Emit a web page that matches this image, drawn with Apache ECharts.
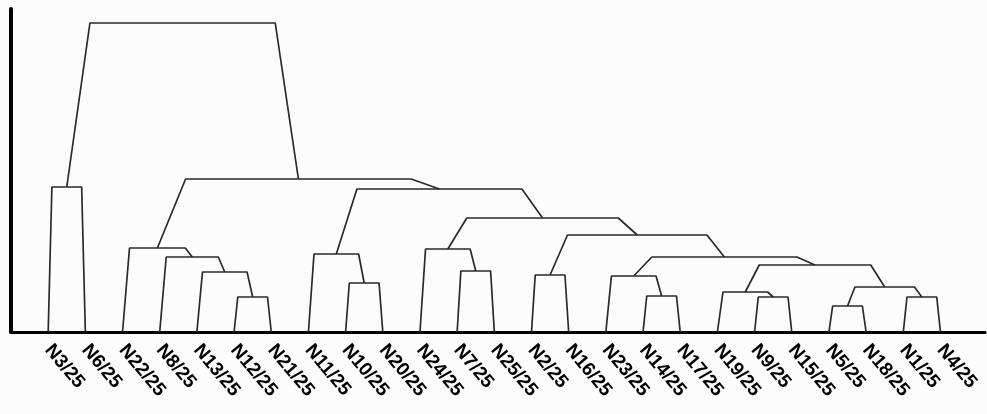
<!DOCTYPE html>
<html>
<head>
<meta charset="utf-8">
<script src="https://cdn.jsdelivr.net/npm/echarts@6/dist/echarts.min.js"></script>
<style>html,body{margin:0;padding:0;background:#fcfcfc;}#c{width:987px;height:414px;}</style>
</head>
<body>
<div id="c"></div>
<script>
// Leaf order along the x axis
const leaves = ["N3/25","N6/25","N22/25","N8/25","N13/25","N12/25","N21/25","N11/25","N10/25","N20/25","N24/25","N7/25","N25/25","N2/25","N16/25","N23/25","N14/25","N17/25","N19/25","N9/25","N15/25","N5/25","N18/25","N1/25","N4/25"];
// Merge steps: children are leaf names or indices of earlier merges
const mergeLeft   = ["N3/25","N12/25","N13/25","N8/25","N22/25","N10/25","N11/25","N7/25","N24/25","N2/25","N14/25","N23/25","N9/25","N19/25","N5/25","N1/25",14,13,11,9,8,6,4,0];
const mergeRight  = ["N6/25","N21/25",1,2,3,"N20/25",5,"N25/25",7,"N16/25","N17/25",10,"N15/25",12,"N18/25","N4/25",15,16,17,18,19,20,21,22];
const mergeHeight = [145,35,60,75,84,49,78,61,83,57,36,56,35,40,26,35,45,67,75,97,114,143,153,309];

const nodeX = [];
function pos(ref){
  if (typeof ref === 'string') return [leaves.indexOf(ref), 0];
  return [nodeX[ref], mergeHeight[ref]];
}
const series = [];
for (let i = 0; i < mergeHeight.length; i++) {
  const a = pos(mergeLeft[i]), b = pos(mergeRight[i]);
  const d = b[0] - a[0], h = mergeHeight[i];
  nodeX[i] = (a[0] + b[0]) / 2;
  series.push({
    type: 'line', symbol: 'none', silent: true, animation: false,
    lineStyle: {color: '#2a2a2a', width: 1.7},
    data: [[a[0], a[1]], [a[0] + 0.1 * d, h], [b[0] - 0.1 * d, h], [b[0], b[1]]]
  });
}

const chart = echarts.init(document.getElementById('c'));
chart.setOption({
  backgroundColor: '#fcfcfc',
  animation: false,
  grid: {left: 11, right: 0, top: 9, bottom: 82},
  xAxis: {
    type: 'value', min: -1, max: 25.2, interval: 1,
    axisLine: {show: true, onZero: false, lineStyle: {color: '#000', width: 3}},
    axisTick: {show: false}, splitLine: {show: false},
    axisLabel: {
      rotate: -50, margin: 15, fontSize: 19, fontWeight: 'bold', color: '#000',
      fontFamily: 'Liberation Sans',
      showMinLabel: true, showMaxLabel: true,
      formatter: v => leaves[Math.round(v)] !== undefined && Math.abs(v - Math.round(v)) < 1e-6 ? leaves[Math.round(v)] : ''
    }
  },
  yAxis: {
    type: 'value', min: 0, max: 323,
    axisLine: {show: true, onZero: false, lineStyle: {color: '#000', width: 4}},
    axisTick: {show: false}, axisLabel: {show: false}, splitLine: {show: false}
  },
  series: series
});
</script>
</body>
</html>
